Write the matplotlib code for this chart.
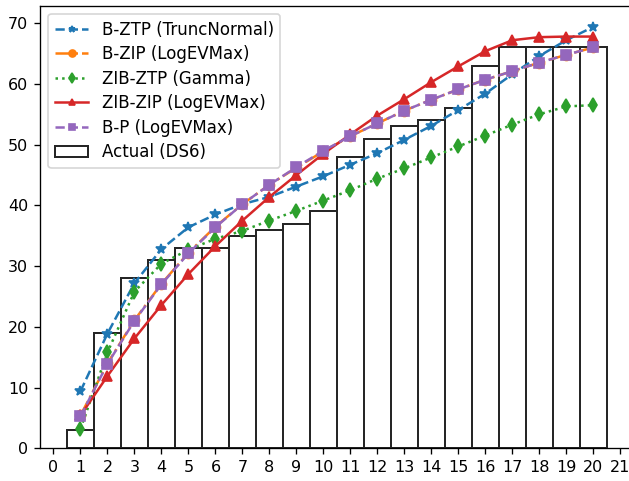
import matplotlib.pyplot as plt
import numpy as np

# cumulative counts per interval
x = np.arange(1, 21)

actual_ds6 = [3, 19, 28, 31, 33, 33, 35, 36, 37, 39,
              48, 51, 53, 54, 56, 63, 66, 66, 66, 66]

b_ztp = [9.4, 18.9, 27.2, 32.8, 36.4, 38.5, 40.2, 41.4, 43.1, 44.8,
         46.7, 48.6, 50.8, 53.1, 55.7, 58.4, 61.6, 64.6, 67.2, 69.4]

b_zip = [5.4, 14.0, 21.1, 27.1, 32.2, 36.5, 40.2, 43.4, 46.2, 48.9,
         51.4, 53.5, 55.6, 57.4, 59.1, 60.7, 62.1, 63.5, 64.8, 66.0]

zib_ztp = [3.2, 15.8, 25.8, 30.4, 32.7, 34.5, 35.8, 37.5, 39.1, 40.8,
           42.5, 44.4, 46.1, 47.9, 49.7, 51.5, 53.3, 55.0, 56.3, 56.5]

zib_zip = [5.4, 11.9, 18.1, 23.6, 28.7, 33.3, 37.5, 41.4, 45.0, 48.5,
           51.7, 54.8, 57.5, 60.3, 62.9, 65.4, 67.2, 67.7, 67.8, 67.8]

b_p = [5.3, 13.9, 21.0, 27.0, 32.1, 36.4, 40.2, 43.4, 46.3, 49.0,
       51.4, 53.5, 55.6, 57.4, 59.1, 60.7, 62.1, 63.5, 64.8, 66.0]

dpi = 120
fig = plt.figure(figsize=(629 / dpi, 481 / dpi), dpi=dpi)
# right spine falls just outside the picture, as in the reference crop
ax = fig.add_axes([0.0636, 0.068, 0.944, 0.920])

ax.plot(x, b_ztp, linestyle='--', marker='*', color='C0', label='B-ZTP (TruncNormal)')
ax.plot(x, b_zip, linestyle='-.', marker='o', color='C1', label='B-ZIP (LogEVMax)')
ax.plot(x, zib_ztp, linestyle=':', marker='d', color='C2', label='ZIB-ZTP (Gamma)')
ax.plot(x, zib_zip, linestyle='-', marker='^', color='C3', label='ZIB-ZIP (LogEVMax)')
ax.plot(x, b_p, linestyle='--', marker='s', color='C4', label='B-P (LogEVMax)')
ax.bar(x, actual_ds6, width=1, color='white', edgecolor='#262626', linewidth=1.2,
       label='Actual (DS6)', zorder=1)

ax.set_xticks(range(0, 22))
ax.tick_params(labelsize=9.6)
ax.legend(loc='upper left', markerscale=0.7, labelspacing=0.39)

fig.savefig('out.png', dpi=dpi)
